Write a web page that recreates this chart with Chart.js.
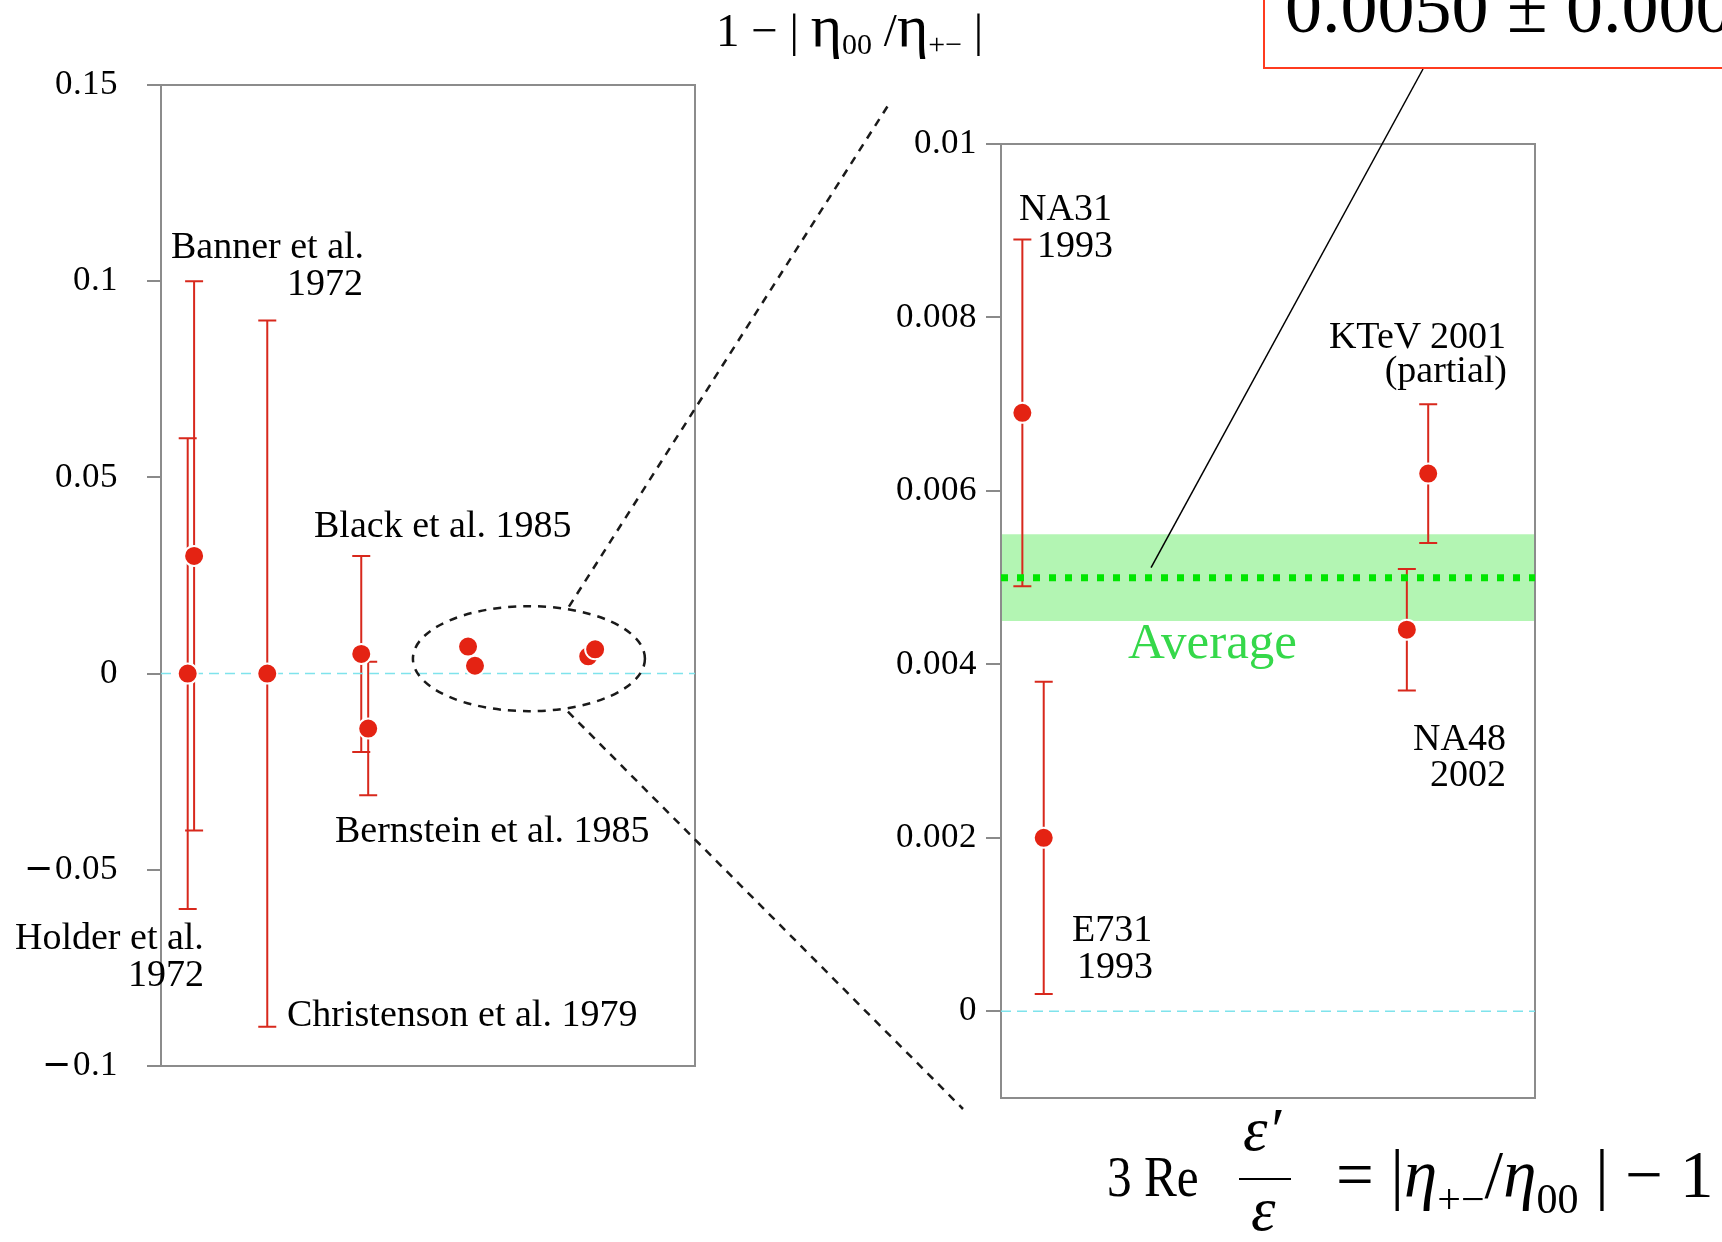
<!DOCTYPE html>
<html>
<head>
<meta charset="utf-8">
<script src="https://cdn.jsdelivr.net/npm/chart.js@4.4.1/dist/chart.umd.min.js"></script>
<style>
  /* tick labels: Liberation Serif digits with the wider DejaVu minus sign */
  @font-face { font-family: 'TickSerif'; src: local('DejaVu Serif'), local('DejaVuSerif'); unicode-range: U+2212; }
  @font-face { font-family: 'TickSerif'; src: local('Liberation Serif'), local('LiberationSerif'); unicode-range: U+0000-00FF; }
  body { margin: 0; background: #fff; }
  #page { position: relative; width: 1722px; height: 1242px; overflow: hidden;
          font-family: 'Liberation Serif', 'Times New Roman', serif; color: #000; }
  #page canvas { position: absolute; left: 0; top: 0; }
  .note { position: absolute; font-size: 38px; line-height: 38px; white-space: nowrap; }
  .fx { position: absolute; white-space: nowrap; }
  #title { position: absolute; left: 716px; top: 3px; font-size: 47px; line-height: 47px; white-space: nowrap; }
  #title .eta { font-size: 60px; }
  #title sub { font-size: 30px; vertical-align: -8px; line-height: 0; }
  #result { position: absolute; left: 1263px; top: -40px; width: 600px; height: 109px;
            box-sizing: border-box; border: 2px solid #ff3b1f; }
  #resultText { position: absolute; left: 1285px; top: -30px; font-size: 74px; line-height: 74px; white-space: nowrap; }
  #avg { position: absolute; left: 1128px; top: 616px; font-size: 51px; line-height: 51px; color: #35d84a; }
  #lhs { left: 1107px; top: 1148px; font-size: 58px; line-height: 58px; transform: scaleX(0.85); transform-origin: 0 0; }
  .eps { font-size: 62px; line-height: 62px; font-style: italic; }
  #rhs { left: 1336px; top: 1141px; font-size: 67px; line-height: 67px; }
  #rhs sub { font-size: 42px; vertical-align: -16px; line-height: 0; }
</style>
</head>
<body>
<div id="page">
  <canvas id="leftChart" width="1722" height="1242"></canvas>
  <canvas id="rightChart" width="1722" height="1242"></canvas>

  <div id="title">1 − | <span class="eta">η</span><sub>00</sub> /<span class="eta">η</span><sub>+−</sub> |</div>
  <div id="result"></div>
  <div id="resultText">0.0050 ± 0.0005</div>
  <div id="avg">Average</div>

  <div class="fx" id="lhs">3 Re</div>
  <div class="fx eps" style="left:1243px; top:1098px">ε′</div>
  <div style="position:absolute; left:1239px; top:1178px; width:52px; height:2px; background:#000"></div>
  <div class="fx eps" style="left:1251px; top:1178px">ε</div>
  <div class="fx" id="rhs">= |<i>η</i><sub>+−</sub>/<i>η</i><sub>00</sub> | − 1</div>
</div>
<script>
// old measurements (left panel only)
const oldNames = ['Holder et al. 1972', 'Banner et al. 1972', 'Christenson et al. 1979', 'Black et al. 1985', 'Bernstein et al. 1985'];
const oldX = [5.0, 6.2, 19.9, 37.5, 38.8];
const oldVal = [0, 0.030, 0, 0.005, -0.014];
const oldErr = [0.060, 0.070, 0.090, 0.025, 0.017];

// recent measurements (zoomed in the right panel)
const newNames = ['NA31 1993', 'E731 1993', 'NA48 2002', 'KTeV 2001 (partial)'];
const newXLeft = [57.5, 58.8, 80.0, 81.3];
const newXRight = [4.0, 8.0, 76.0, 80.0];
const newVal = [0.0069, 0.0020, 0.0044, 0.0062];
const newErr = [0.0020, 0.0018, 0.0007, 0.0008];

const average = 0.0050;
const averageErr = 0.0005;

const leftTicks = [-0.1, -0.05, 0, 0.05, 0.1, 0.15];
const leftTickLabels = ['\u2212\u200a0.1', '\u2212\u200a0.05', '0', '0.05', '0.1', '0.15'];
const rightTicks = [0, 0.002, 0.004, 0.006, 0.008, 0.01];
const rightTickLabels = ['0', '0.002', '0.004', '0.006', '0.008', '0.01'];

// text notes: text, x, baseline, anchor
const notes = [
  ['Banner et al.', 171, 258, 'left'],
  ['1972', 363, 295, 'right'],
  ['Black et al. 1985', 314, 537, 'left'],
  ['Bernstein et al. 1985', 335, 842, 'left'],
  ['Holder et al.', 15, 949, 'left'],
  ['1972', 204, 986, 'right'],
  ['Christenson et al. 1979', 287, 1026, 'left'],
  ['NA31', 1019, 220, 'left'],
  ['1993', 1037, 257, 'left'],
  ['KTeV 2001', 1506, 348, 'right'],
  ['(partial)', 1507, 382, 'right'],
  ['NA48', 1506, 750, 'right'],
  ['2002', 1506, 786, 'right'],
  ['E731', 1072, 941, 'left'],
  ['1993', 1077, 978, 'left']
];

const page = document.getElementById('page');
notes.forEach(([text, x, base, anchor]) => {
  const el = document.createElement('div');
  el.className = 'note';
  el.textContent = text;
  el.style.top = (base - 31.8) + 'px';
  if (anchor === 'left') el.style.left = x + 'px';
  else el.style.right = (1722 - x) + 'px';
  page.appendChild(el);
});

const RED = '#e42313';
const BAR = '#d8281c';
const CYAN = '#7fe3ec';

Chart.defaults.font.family = "'Liberation Serif', 'Times New Roman', serif";
Chart.defaults.color = '#000';

// frame, average band and error bars, drawn under the datasets
const errorBars = {
  id: 'errorBars',
  beforeDatasetsDraw(chart, args, o) {
    const { ctx, chartArea: a, scales: { x, y } } = chart;
    ctx.save();
    if (o.band) {
      const t = y.getPixelForValue(o.band[0] + o.band[1]);
      const b = y.getPixelForValue(o.band[0] - o.band[1]);
      ctx.fillStyle = '#b3f5b3';
      ctx.fillRect(a.left, t, a.right - a.left, b - t);
    }
    ctx.strokeStyle = '#8c8c8c';
    ctx.lineWidth = 2;
    ctx.strokeRect(a.left, a.top, a.right - a.left, a.bottom - a.top);

    ctx.strokeStyle = BAR;
    ctx.lineWidth = 2;
    o.x.forEach((xv, i) => {
      const px = x.getPixelForValue(xv);
      const top = y.getPixelForValue(o.y[i] + o.err[i]);
      const bot = y.getPixelForValue(o.y[i] - o.err[i]);
      ctx.beginPath();
      ctx.moveTo(px, top); ctx.lineTo(px, bot);
      ctx.moveTo(px - 9, top); ctx.lineTo(px + 9, top);
      ctx.moveTo(px - 9, bot); ctx.lineTo(px + 9, bot);
      ctx.stroke();
    });
    ctx.restore();
  }
};

// dashed ellipse round the recent points and the two zoom lines
const lens = {
  id: 'lens',
  afterDraw(chart) {
    const { ctx, scales: { x, y } } = chart;
    const cx = x.getPixelForValue(68.9);
    const cy = y.getPixelForValue(0.0038);
    ctx.save();
    ctx.setLineDash([8, 7]);
    ctx.lineWidth = 2.5;
    ctx.strokeStyle = '#1a1a1a';
    ctx.beginPath();
    ctx.ellipse(cx, cy, 116, 52.5, 0, 0, Math.PI * 2);
    ctx.stroke();
    ctx.beginPath();
    ctx.moveTo(cx + 40, cy - 52); ctx.lineTo(889, 104);
    ctx.moveTo(cx + 39, cy + 53); ctx.lineTo(963, 1109);
    ctx.stroke();
    ctx.restore();
  }
};

// thin pointer from the result box to the average line
const pointer = {
  id: 'pointer',
  afterDraw(chart) {
    const { ctx, scales: { x, y } } = chart;
    ctx.save();
    ctx.strokeStyle = '#000';
    ctx.lineWidth = 1.5;
    ctx.beginPath();
    ctx.moveTo(1423, 69);
    ctx.lineTo(x.getPixelForValue(28.1), y.getPixelForValue(average) - 10);
    ctx.stroke();
    ctx.restore();
  }
};

function yAxis(min, max, ticks, labels, width, tickLength, padding) {
  return {
    min, max,
    afterFit(s) { s.width = width; },
    afterBuildTicks(s) { s.ticks = ticks.map(v => ({ value: v })); },
    ticks: {
      callback: v => labels[ticks.indexOf(v)],
      font: { size: 35, family: "TickSerif, 'Liberation Serif', serif" },
      color: '#000',
      padding,
      autoSkip: false
    },
    grid: { drawOnChartArea: false, tickLength, color: '#8a8a8a', lineWidth: 2 },
    border: { display: false }
  };
}

function zeroLine() {
  return {
    data: [{ x: 0, y: 0 }, { x: 100, y: 0 }],
    borderColor: CYAN, borderWidth: 1.5, borderDash: [10, 6],
    pointRadius: 0, order: 3
  };
}

function points(xs, ys) {
  return {
    data: xs.map((x, i) => ({ x, y: ys[i] })),
    showLine: false,
    pointRadius: 10,
    pointBackgroundColor: RED,
    pointBorderColor: '#fff',
    pointBorderWidth: 2,
    order: 0
  };
}

const leftChart = new Chart(document.getElementById('leftChart'), {
  type: 'line',
  data: {
    datasets: [
      zeroLine(),
      points(oldX.concat(newXLeft), oldVal.concat(newVal))
    ]
  },
  options: {
    responsive: false,
    animation: false,
    events: [],
    layout: { padding: { left: 0, top: 85, right: 1027, bottom: 176 } },
    plugins: {
      legend: { display: false },
      tooltip: { enabled: false },
      errorBars: { x: oldX, y: oldVal, err: oldErr }
    },
    scales: {
      x: { type: 'linear', min: 0, max: 100, display: false },
      y: yAxis(-0.1, 0.15, leftTicks, leftTickLabels, 161, 14, 29)
    }
  },
  plugins: [errorBars, lens]
});

const rightChart = new Chart(document.getElementById('rightChart'), {
  type: 'line',
  data: {
    datasets: [
      zeroLine(),
      {
        data: [{ x: 0, y: average }, { x: 100, y: average }],
        borderColor: '#00e600', borderWidth: 7, borderDash: [7, 9],
        borderCapStyle: 'butt', pointRadius: 0, order: 1
      },
      points(newXRight, newVal)
    ]
  },
  options: {
    responsive: false,
    animation: false,
    events: [],
    layout: { padding: { left: 0, top: 144, right: 187, bottom: 144 } },
    plugins: {
      legend: { display: false },
      tooltip: { enabled: false },
      errorBars: { x: newXRight, y: newVal, err: newErr, band: [average, averageErr] }
    },
    scales: {
      x: { type: 'linear', min: 0, max: 100, display: false },
      y: yAxis(-0.001, 0.01, rightTicks, rightTickLabels, 1001, 15, 9)
    }
  },
  plugins: [errorBars, pointer]
});

// redraw once the tick font is ready
document.fonts.load("35px TickSerif", "\u22120.05").then(() => {
  leftChart.update();
  rightChart.update();
});
</script>
</body>
</html>
